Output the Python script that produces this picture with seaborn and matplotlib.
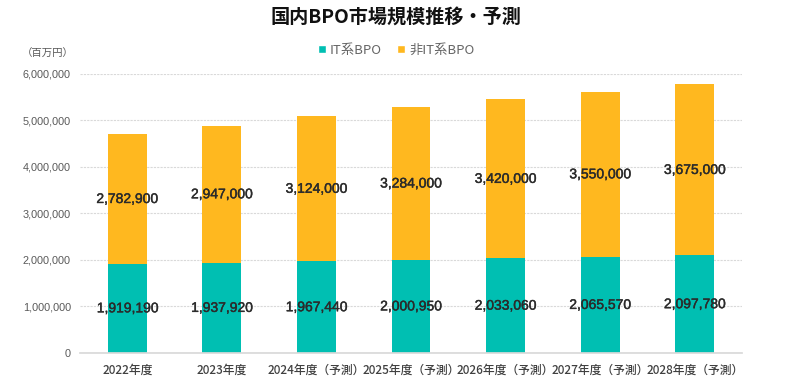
import matplotlib
matplotlib.use("Agg")
import matplotlib.pyplot as plt
import matplotlib.patheffects as pe
import seaborn as sns
import pandas as pd
from matplotlib.ticker import FuncFormatter
from matplotlib.patches import Patch

categories = ["2022年度", "2023年度", "2024年度（予測）", "2025年度（予測）",
              "2026年度（予測）", "2027年度（予測）", "2028年度（予測）"]
it_bpo = [1919190, 1937920, 1967440, 2000950, 2033060, 2065570, 2097780]
non_it_bpo = [2782900, 2947000, 3124000, 3284000, 3420000, 3550000, 3675000]

sns.set_theme(style="white")
plt.rcParams['font.family'] = ['Noto Sans CJK JP', 'DejaVu Sans']

teal = "#00BFB2"
orange = "#FFB81F"

df = pd.DataFrame({"cat": categories, "it": it_bpo, "nonit": non_it_bpo})
df["total"] = df["it"] + df["nonit"]

fig = plt.figure(figsize=(7.92, 3.87), dpi=100)
ax = fig.add_axes([0.101, 0.088, 0.836, 0.721])

sns.barplot(data=df, x="cat", y="total", color=orange, width=0.41, ax=ax,
            saturation=1, edgecolor="none")
sns.barplot(data=df, x="cat", y="it", color=teal, width=0.41, ax=ax,
            saturation=1, edgecolor="none")

ax.set_ylim(0, 6000000)
ax.set_xlim(-0.5, len(categories) - 0.5)
ax.set_yticks(range(0, 6000001, 1000000))
ax.yaxis.set_major_formatter(FuncFormatter(lambda v, p: f"{int(v):,}"))
ax.grid(axis="y", color="#d9d9d9", linewidth=0.8, linestyle=(0, (2, 1)))
ax.set_axisbelow(True)
for s in ["top", "right", "left"]:
    ax.spines[s].set_visible(False)
ax.spines["bottom"].set_color("#d9d9d9")
ax.tick_params(axis="y", labelsize=7.8, colors="#595959", length=0, pad=6.5)
for t in ax.get_yticklabels():
    t.set_fontfamily(["Liberation Sans", "DejaVu Sans"])
ax.tick_params(axis="x", labelsize=8.5, colors="#404040", length=0, pad=8)
for t in ax.get_xticklabels():
    t.set_fontweight("medium")
ax.set_xlabel("")
ax.set_ylabel("")

for i, (a, b) in enumerate(zip(it_bpo, non_it_bpo)):
    for yv, val in ((a / 2, a), (a + b / 2, b)):
        ax.text(i, yv, f"{val:,}", ha="center", va="center", fontsize=10,
                color="#2b2b2b", family=["Liberation Sans", "DejaVu Sans"],
                fontweight="normal",
                path_effects=[pe.withStroke(linewidth=0.3, foreground="#2b2b2b")])

fig.text(0.5, 0.955, "国内BPO市場規模推移・予測", ha="center", va="center",
         fontsize=13.8, fontweight="bold", color="#111111")
fig.text(0.028, 0.862, "（百万円）", ha="left", va="center", fontsize=7.5,
         color="#595959")

handles = [Patch(facecolor=teal, label="IT系BPO"),
           Patch(facecolor=orange, label="非IT系BPO")]
fig.legend(handles=handles, loc="center", bbox_to_anchor=(0.5, 0.87), ncol=2,
           frameon=False, fontsize=9.5, handlelength=0.6, handleheight=0.6,
           handletextpad=0.3, columnspacing=1.2, labelcolor="#666666")

fig.savefig("out.png", dpi=100)
